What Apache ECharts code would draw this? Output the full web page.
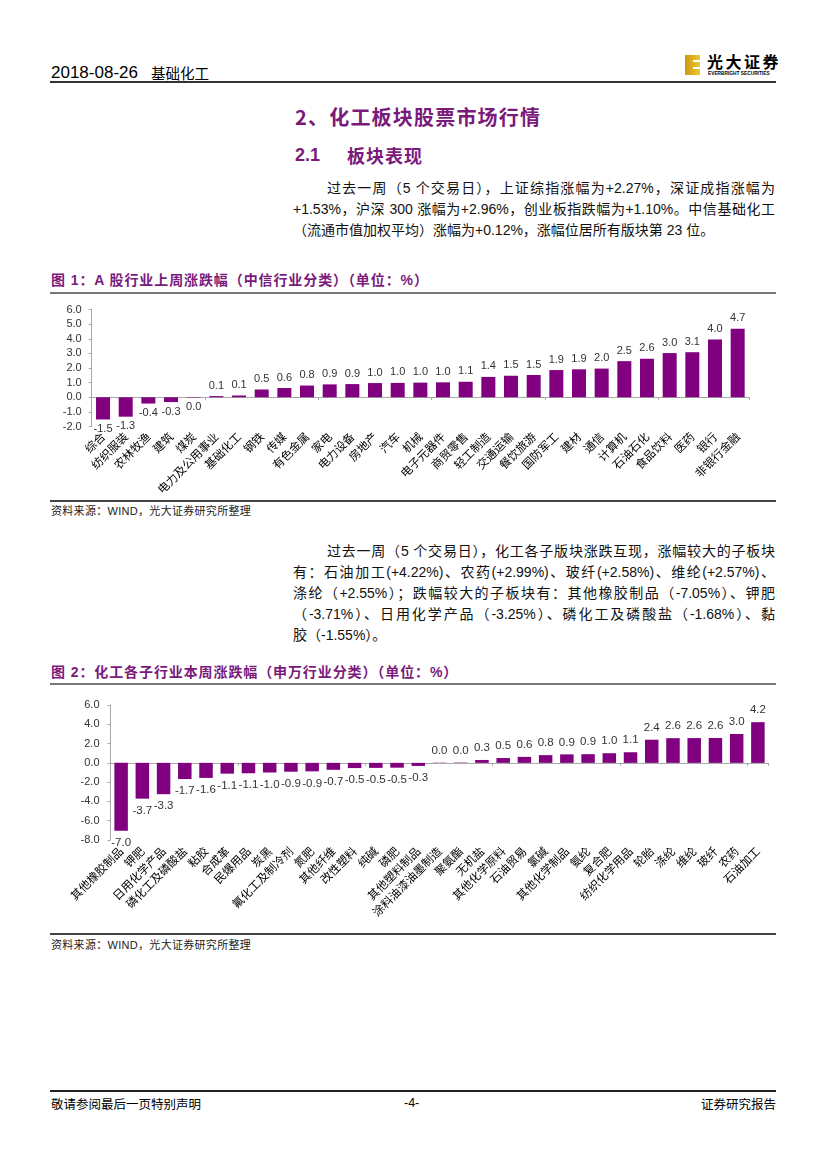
<!DOCTYPE html>
<html><head><meta charset="utf-8">
<script src="https://cdn.jsdelivr.net/npm/echarts@6/dist/echarts.min.js"></script>
<style>
html,body{margin:0;padding:0;background:#fff;}
#page{position:relative;width:827px;height:1169px;overflow:hidden;background:#fff;font-family:"Liberation Sans","Noto Sans CJK SC",sans-serif;color:#000;}
.abs{position:absolute;white-space:nowrap;}
.line{position:absolute;left:293px;width:482px;font-size:14px;line-height:21px;height:21px;text-align:justify;text-align-last:justify;white-space:nowrap;color:#111;}
.last{text-align-last:left;}
.cap{position:absolute;left:51px;font-size:14px;font-weight:bold;color:#7a1a7a;line-height:18px;white-space:nowrap;letter-spacing:0.9px;}
.rule{position:absolute;left:50px;width:726px;}
.src{position:absolute;left:51px;font-size:11px;color:#222;line-height:14px;white-space:nowrap;letter-spacing:0.3px;}
</style></head>
<body><div id="page">
<!-- header -->
<div class="abs" style="left:51px;top:62px;line-height:22px;font-size:17px;font-family:'Liberation Sans Narrow','Liberation Sans',sans-serif;">2018-08-26</div>
<div class="abs" style="left:151px;top:63px;line-height:20px;font-size:14.5px;font-family:'Noto Sans CJK SC';">基础化工</div>
<div class="abs" style="left:685px;top:55px;width:15px;height:20px;background:linear-gradient(90deg,#c99a10,#f0c830);"></div>
<div class="abs" style="left:693px;top:60px;width:7px;height:2px;background:#fff;"></div>
<div class="abs" style="left:693px;top:67px;width:7px;height:2px;background:#fff;"></div>
<div class="abs" style="left:707px;top:51px;line-height:20px;font-size:16px;font-weight:bold;letter-spacing:2.5px;font-family:'Noto Sans CJK SC';">光大证券</div>
<div class="abs" style="left:708px;top:71px;line-height:7px;font-size:8px;font-weight:bold;transform:scale(0.6,0.7);transform-origin:0 0;">EVERBRIGHT SECURITIES</div>
<div class="rule" style="top:81px;height:2px;background:#333;"></div>

<!-- titles -->
<div class="abs" style="left:295px;top:105px;line-height:24px;font-size:20px;font-weight:bold;color:#7a1a7a;letter-spacing:1.2px;font-family:'Noto Sans CJK SC';">2、化工板块股票市场行情</div>
<div class="abs" style="left:295px;top:144px;line-height:22px;font-size:18px;font-weight:bold;color:#7a1a7a;font-family:'Liberation Sans';">2.1</div>
<div class="abs" style="left:347px;top:144px;line-height:22px;font-size:18px;font-weight:bold;color:#7a1a7a;letter-spacing:1px;font-family:'Noto Sans CJK SC';">板块表现</div>

<!-- paragraph 1 -->
<div class="line" style="top:178px;padding-left:34px;width:448px;">过去一周（5 个交易日），上证综指涨幅为+2.27%，深证成指涨幅为</div>
<div class="line" style="top:199px;">+1.53%，沪深 300 涨幅为+2.96%，创业板指跌幅为+1.10%。中信基础化工</div>
<div class="line last" style="top:220px;">（流通市值加权平均）涨幅为+0.12%，涨幅位居所有版块第 23 位。</div>

<div class="cap" style="top:271px;">图 1：A 股行业上周涨跌幅（中信行业分类）（单位：%）</div>
<div class="rule" style="top:292px;height:2px;background:#777;"></div>
<div id="c1" class="abs" style="left:0;top:295px;width:827px;height:204px;"></div>
<div class="rule" style="top:500px;height:1.5px;background:#444;"></div>
<div class="src" style="top:504px;">资料来源：WIND，光大证券研究所整理</div>

<!-- paragraph 2 -->
<div class="line" style="top:541px;padding-left:34px;width:448px;">过去一周（5 个交易日），化工各子版块涨跌互现，涨幅较大的子板块</div>
<div class="line" style="top:562px;">有：石油加工(+4.22%)、农药(+2.99%)、玻纤(+2.58%)、维纶(+2.57%)、</div>
<div class="line" style="top:583px;">涤纶（+2.55%）；跌幅较大的子板块有：其他橡胶制品（-7.05%）、钾肥</div>
<div class="line" style="top:604px;">（-3.71%）、日用化学产品（-3.25%）、磷化工及磷酸盐（-1.68%）、黏</div>
<div class="line last" style="top:625px;">胶（-1.55%）。</div>

<div class="cap" style="top:663px;">图 2：化工各子行业本周涨跌幅（申万行业分类）（单位：%）</div>
<div class="rule" style="top:683px;height:2px;background:#777;"></div>
<div id="c2" class="abs" style="left:0;top:690px;width:827px;height:242px;"></div>
<div class="rule" style="top:933px;height:1.5px;background:#444;"></div>
<div class="src" style="top:938px;">资料来源：WIND，光大证券研究所整理</div>

<!-- footer -->
<div class="rule" style="top:1090px;height:1.5px;background:#222;"></div>
<div class="abs" style="left:51px;top:1095px;line-height:17px;font-size:12.5px;font-family:'Noto Sans CJK SC';">敬请参阅最后一页特别声明</div>
<div class="abs" style="left:404px;top:1095px;line-height:17px;font-size:12.5px;">-4-</div>
<div class="abs" style="left:700px;top:1095px;line-height:17px;font-size:12.5px;font-family:'Noto Sans CJK SC';width:76px;text-align:right;">证券研究报告</div>
</div>
<script>
// ---- data ----
var cats1 = ['综合','纺织服装','农林牧渔','建筑','煤炭','电力及公用事业','基础化工','钢铁','传媒','有色金属','家电','电力设备','房地产','汽车','机械','电子元器件','商贸零售','轻工制造','交通运输','餐饮旅游','国防军工','建材','通信','计算机','石油石化','食品饮料','医药','银行','非银行金融'];
var vals1 = [-1.52,-1.33,-0.43,-0.33,-0.03,0.08,0.12,0.53,0.63,0.80,0.88,0.90,0.97,0.98,1.00,1.02,1.06,1.39,1.47,1.52,1.86,1.91,1.96,2.47,2.63,3.02,3.08,3.95,4.68];
var yTicks1 = {min:-2, max:6, interval:1};

var cats2 = ['其他橡胶制品','钾肥','日用化学产品','磷化工及磷酸盐','粘胶','合成革','民爆用品','炭黑','氟化工及制冷剂','氮肥','其他纤维','改性塑料','纯碱','磷肥','其他塑料制品','涂料油漆油墨制造','聚氨酯','无机盐','其他化学原料','石油贸易','氯碱','其他化学制品','氨纶','复合肥','纺织化学用品','轮胎','涤纶','维纶','玻纤','农药','石油加工'];
var vals2 = [-7.05,-3.71,-3.25,-1.68,-1.56,-1.12,-1.08,-1.00,-0.92,-0.88,-0.72,-0.54,-0.52,-0.50,-0.32,0.03,0.04,0.30,0.50,0.62,0.80,0.88,0.90,1.00,1.10,2.40,2.56,2.57,2.58,2.99,4.22];
var yTicks2 = {min:-8, max:6, interval:2};

var PURPLE = '#80007f';
function fmt(v){ return (Math.abs(v) < 0.05 ? 0 : v).toFixed(1); }

function build(id, cats, vals, yt, o){
  var chart = echarts.init(document.getElementById(id), null, {renderer:'canvas'});
  var data = vals.map(function(v){
    return {value:v, label:{position: v < 0 ? 'bottom' : 'top', distance: v < 0 ? o.negDist : o.posDist}};
  });
  chart.setOption({
    animation:false,
    grid:{left:o.left, right:o.right, top:o.top, height:o.height, containLabel:false, outerBoundsMode:'none'},
    xAxis:[
      {type:'category', data:cats, position:'bottom',
       axisLine:{show:true, onZero:true, lineStyle:{color:'#a8a8a8', width:1}},
       axisTick:{show:true, length:3, lineStyle:{color:'#a8a8a8'}},
       axisLabel:{show:false}, splitLine:{show:false}},
      {type:'category', data:cats, position:'bottom',
       axisLine:{show:false, onZero:false}, axisTick:{show:false}, splitLine:{show:false},
       axisLabel:{show:true, interval:0, rotate:45, margin:o.labelMargin, fontSize:11.5, color:'#000',
                  fontFamily:'Noto Sans CJK SC', hideOverlap:false}}
    ],
    yAxis:{type:'value', min:yt.min, max:yt.max, interval:yt.interval,
      axisLine:{show:true, lineStyle:{color:'#a8a8a8'}},
      axisTick:{show:true, length:3, lineStyle:{color:'#a8a8a8'}},
      splitLine:{show:false},
      axisLabel:{formatter:function(v){return v.toFixed(1);}, fontSize:11, color:'#333', margin:o.yMargin, fontFamily:'Liberation Sans'}},
    series:[{type:'bar', xAxisIndex:0, data:data, barWidth:o.barWidth,
      itemStyle:{color:PURPLE},
      label:{show:true, formatter:function(p){return fmt(p.value);}, fontSize:o.valFont, color:'#333', fontFamily:'Liberation Sans'}}]
  });
}
build('c1', cats1, vals1, yTicks1, {left:91.7, right:78, top:14.5, height:117, barWidth:14, posDist:5, negDist:4, labelMargin:8, yMargin:10, valFont:11});
build('c2', cats2, vals2, yTicks2, {left:110.5, right:58.5, top:15, height:135, barWidth:13.5, posDist:6, negDist:6, labelMargin:9, yMargin:11, valFont:11.5});
</script>
</body></html>
